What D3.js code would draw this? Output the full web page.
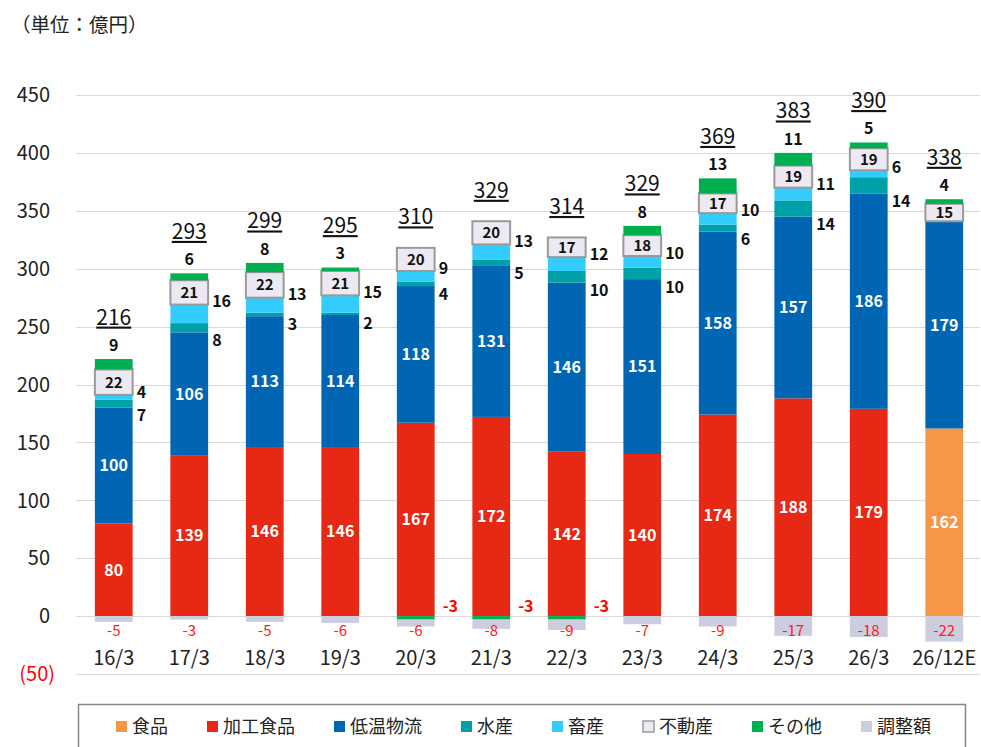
<!DOCTYPE html>
<html lang="ja">
<head>
  <meta charset="UTF-8">
  <title>セグメント別営業利益</title>
  <script src="https://d3js.org/d3.v7.min.js"></script>
  <style>
    body { margin: 0; background: #fff; }
    svg text { font-family: "Noto Sans CJK JP", "Noto Sans", sans-serif; }
  </style>
</head>
<body>
  <svg id="chart" width="981" height="747"></svg>
  <script>
    // data (億円)
    const categories = ['16/3', '17/3', '18/3', '19/3', '20/3', '21/3', '22/3', '23/3', '24/3', '25/3', '26/3', '26/12E'];
    const shokuhin = [0, 0, 0, 0, 0, 0, 0, 0, 0, 0, 0, 162];
    const kakou = [80, 139, 146, 146, 167, 172, 142, 140, 174, 188, 179, 0];
    const teion = [100, 106, 113, 114, 118, 131, 146, 151, 158, 157, 186, 179];
    const suisan = [7, 8, 3, 2, 4, 5, 10, 10, 6, 14, 14, 0];
    const chikusan = [4, 16, 13, 15, 9, 13, 12, 10, 10, 11, 6, 0];
    const fudousan = [22, 21, 22, 21, 20, 20, 17, 18, 17, 19, 19, 15];
    const sonota = [9, 6, 8, 3, -3, -3, -3, 8, 13, 11, 5, 4];
    const chousei = [-5, -3, -5, -6, -6, -8, -9, -7, -9, -17, -18, -22];
    const totals = [216, 293, 299, 295, 310, 329, 314, 329, 369, 383, 390, 338];
    const yTicks = [-50, 0, 50, 100, 150, 200, 250, 300, 350, 400, 450];

    const series = [
      { key: '食品', values: shokuhin, color: '#F79646' },
      { key: '加工食品', values: kakou, color: '#E62814' },
      { key: '低温物流', values: teion, color: '#0066B3' },
      { key: '水産', values: suisan, color: '#00A0A8' },
      { key: '畜産', values: chikusan, color: '#33CCFF' },
      { key: '不動産', values: fudousan, color: '#EDE9F3', stroke: '#9A9A9A' },
      { key: 'その他', values: sonota, color: '#00B050' },
      { key: '調整額', values: chousei, color: '#CDCDE0' }
    ];

    const table = categories.map((c, i) => {
      const row = { cat: c, i: i };
      series.forEach(s => { row[s.key] = s.values[i]; });
      return row;
    });

    const svg = d3.select('#chart');

    const x = d3.scaleBand()
      .domain(categories)
      .range([76, 982])
      .paddingInner(0.5)
      .paddingOuter(0.25);

    const y = d3.scaleLinear()
      .domain([-50, 450])
      .range([674, 95]);

    // unit title
    svg.append('text')
      .attr('x', 11).attr('y', 32)
      .attr('font-size', 19.5).attr('fill', '#222')
      .text('（単位：億円）');

    // gridlines
    svg.append('g')
      .selectAll('line')
      .data(yTicks)
      .join('line')
      .attr('x1', 76).attr('x2', 980)
      .attr('y1', d => Math.round(y(d)) + 0.5)
      .attr('y2', d => Math.round(y(d)) + 0.5)
      .attr('stroke', '#D9D9D9').attr('stroke-width', 1);

    // y axis labels
    svg.append('g')
      .selectAll('text')
      .data(yTicks)
      .join('text')
      .attr('x', d => d < 0 ? 55 : 50)
      .attr('y', d => y(d))
      .attr('dy', '0.36em')
      .attr('text-anchor', 'end')
      .attr('font-size', 20)
      .attr('fill', d => d < 0 ? '#FF0000' : '#222')
      .text(d => d < 0 ? '(' + Math.abs(d) + ')' : d);

    // stacked bars
    const stack = d3.stack()
      .keys(series.map(s => s.key))
      .offset(d3.stackOffsetDiverging);
    const stacked = stack(table);

    const layers = svg.append('g')
      .selectAll('g')
      .data(stacked)
      .join('g')
      .attr('fill', (d, i) => series[i].color)
      .attr('stroke', (d, i) => series[i].stroke || 'none')
      .attr('stroke-width', 2);

    layers.selectAll('rect')
      .data(d => d.filter(p => p[1] !== p[0]))
      .join('rect')
      .attr('x', p => x(p.data.cat))
      .attr('width', x.bandwidth())
      .attr('y', p => y(Math.max(p[0], p[1])))
      .attr('height', p => Math.abs(y(p[0]) - y(p[1])));

    const byKey = {};
    stacked.forEach(l => { byKey[l.key] = l; });
    const labels = svg.append('g');
    const bw = x.bandwidth();

    // white labels inside
    ['食品', '加工食品', '低温物流'].forEach(k => {
      labels.selectAll(null)
        .data(byKey[k].filter(p => p[1] !== p[0]))
        .join('text')
        .attr('x', p => x(p.data.cat) + bw / 2)
        .attr('y', p => y((p[0] + p[1]) / 2))
        .attr('dy', '0.36em')
        .attr('text-anchor', 'middle')
        .attr('font-size', 16).attr('font-weight', 'bold')
        .attr('fill', '#fff')
        .text(p => p.data[k]);
    });

    // 不動産 box labels
    labels.selectAll(null)
      .data(byKey['不動産'].filter(p => p[1] !== p[0]))
      .join('text')
      .attr('x', p => x(p.data.cat) + bw / 2)
      .attr('y', p => y((p[0] + p[1]) / 2))
      .attr('dy', '0.36em')
      .attr('text-anchor', 'middle')
      .attr('font-size', 15).attr('font-weight', 'bold')
      .attr('fill', '#111')
      .text(p => p.data['不動産']);

    // 水産 (below-right) and 畜産 (upper-right)
    labels.selectAll(null)
      .data(byKey['水産'].filter(p => p[1] !== p[0]))
      .join('text')
      .attr('x', p => x(p.data.cat) + bw + 4)
      .attr('y', p => y(p[0]) + 8)
      .attr('dy', '0.36em')
      .attr('font-size', 16).attr('font-weight', 'bold')
      .attr('fill', '#111')
      .text(p => p.data['水産']);

    labels.selectAll(null)
      .data(byKey['畜産'].filter(p => p[1] !== p[0]))
      .join('text')
      .attr('x', p => x(p.data.cat) + bw + 4)
      .attr('y', p => y(p[1]) - 3)
      .attr('dy', '0.36em')
      .attr('font-size', 16).attr('font-weight', 'bold')
      .attr('fill', '#111')
      .text(p => p.data['畜産']);

    // その他: positive above the bar, negative in red to the right
    labels.selectAll(null)
      .data(byKey['その他'])
      .join('text')
      .attr('x', p => p.data['その他'] > 0 ? x(p.data.cat) + bw / 2 : x(p.data.cat) + bw + 8)
      .attr('y', p => p.data['その他'] > 0 ? y(p[1]) - 14 : y(0) - 10)
      .attr('dy', '0.36em')
      .attr('text-anchor', p => p.data['その他'] > 0 ? 'middle' : 'start')
      .attr('font-size', 16).attr('font-weight', 'bold')
      .attr('fill', p => p.data['その他'] > 0 ? '#111' : '#FF0000')
      .text(p => p.data['その他']);

    // 調整額
    labels.selectAll(null)
      .data(byKey['調整額'])
      .join('text')
      .attr('x', p => x(p.data.cat) + bw / 2)
      .attr('y', y(0) + 14)
      .attr('dy', '0.36em')
      .attr('text-anchor', 'middle')
      .attr('font-size', 15)
      .attr('fill', '#FF2020')
      .text(p => p.data['調整額']);

    // totals
    const tops = table.map((r, i) => {
      let t = 0;
      series.forEach(s => { if (r[s.key] > 0) t += r[s.key]; });
      return t;
    });
    labels.selectAll(null)
      .data(table)
      .join('text')
      .attr('x', r => x(r.cat) + bw / 2)
      .attr('y', r => y(tops[r.i]) - (r['その他'] > 0 ? 42 : 31))
      .attr('dy', '0.36em')
      .attr('text-anchor', 'middle')
      .attr('font-size', 21)
      .attr('fill', '#111')
      .style('text-decoration', 'underline')
      .text(r => totals[r.i]);

    // category labels
    svg.append('g')
      .selectAll('text')
      .data(categories)
      .join('text')
      .attr('x', d => x(d) + bw / 2)
      .attr('y', 658)
      .attr('dy', '0.36em')
      .attr('text-anchor', 'middle')
      .attr('font-size', 20)
      .attr('fill', '#222')
      .text(d => d);

    // legend
    const legend = svg.append('g');
    legend.append('rect')
      .attr('x', 78.5).attr('y', 704.5)
      .attr('width', 887).attr('height', 60)
      .attr('fill', 'none').attr('stroke', '#888').attr('stroke-width', 1.5);

    let lx = 116;
    series.forEach(s => {
      const item = legend.append('g').attr('transform', `translate(${lx},727)`);
      item.append('rect')
        .attr('x', 0).attr('y', -6)
        .attr('width', 11).attr('height', 11)
        .attr('fill', s.color)
        .attr('stroke', s.stroke || 'none').attr('stroke-width', 1.5);
      const t = item.append('text')
        .attr('x', 16).attr('y', 0)
        .attr('dy', '0.36em')
        .attr('font-size', 18)
        .attr('fill', '#222')
        .text(s.key);
      lx += 16 + t.node().getComputedTextLength() + 39;
    });
  </script>
</body>
</html>
